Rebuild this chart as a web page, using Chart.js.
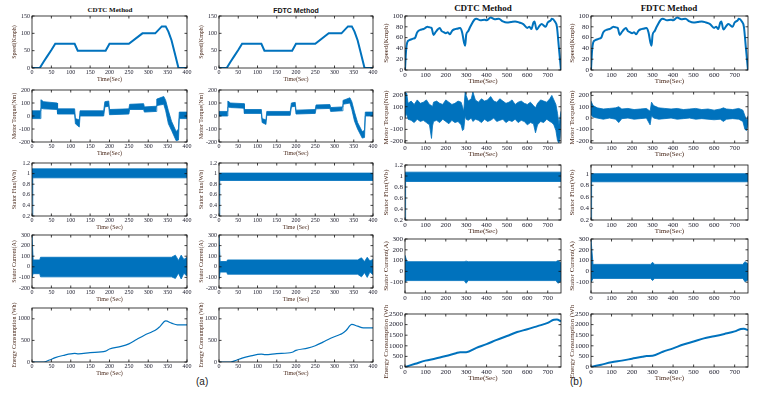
<!DOCTYPE html>
<html>
<head>
<meta charset="utf-8">
<script src="https://cdn.jsdelivr.net/npm/chart.js@4.4.1/dist/chart.umd.min.js"></script>
<style>
body { margin: 0; background: #fff; width: 759px; height: 393px; overflow: hidden; position: relative; }
canvas { position: absolute; }
.ttl { position: absolute; color: #111; transform: translate(-50%, -50%); white-space: nowrap; }
.lab { position: absolute; font: 10px 'Liberation Sans', Arial, sans-serif; color: #222; }
</style>
</head>
<body>
<div class="ttl" style="left:110px;top:10px;font:bold 7px 'Liberation Serif'">CDTC Method</div>
<div class="ttl" style="left:296px;top:10px;font:bold 7px 'Liberation Sans'">FDTC Method</div>
<div class="ttl" style="left:483px;top:8px;font:bold 9px 'Liberation Serif'">CDTC Method</div>
<div class="ttl" style="left:669px;top:8px;font:bold 9px 'Liberation Serif'">FDTC Method</div>
<div class="lab" style="left:196px;top:376px">(a)</div>
<div class="lab" style="left:570px;top:376px">(b)</div>
<script>
// tick labels
var timeTicksA = [0, 50, 100, 150, 200, 250, 300, 350, 400];
var timeTicksB = [0, 100, 200, 300, 400, 500, 600, 700];
var speedTicksA = [0, 50, 100, 150];
var speedTicksB = [0, 20, 40, 60, 80, 100];
var torqueTicks = [-200, -100, 0, 100, 200];
var fluxTicks = [0.2, 0.4, 0.6, 0.8, 1, 1.2];
var fluxTicksShort = [0.2, 0.4, 0.6, 0.8, 1];
var currentTicksA = [-200, -100, 0, 100, 200, 300];
var currentTicksB = [-100, 0, 100, 200, 300];
var energyTicksA = [0, 500, 1000];
var energyTicksB = [0, 500, 1000, 1500, 2000, 2500];

// ---- (a) 400 s cycle ----
var speedTimeA = [0, 20, 30, 40, 50, 60, 110, 118, 190, 200, 250, 285, 318, 335, 345, 352, 360, 368, 378, 400];
var speedA = [0, 0, 18, 35, 52, 70, 70, 50, 50, 70, 70, 100, 100, 120, 120, 105, 80, 45, 0, 0];

var torqueTimeA = [0, 22, 23, 30, 65, 66, 110, 112, 122, 124, 185, 188, 198, 200, 250, 252, 288, 290, 320, 322, 340, 345, 352, 360, 372, 378, 380, 400];
var torqueUpCdtcA = [40, 40, 125, 110, 100, 55, 55, -20, -30, 40, 40, 110, 115, 50, 55, 90, 95, 70, 75, 130, 150, 120, 40, -40, -120, -100, 30, 30];
var torqueLoCdtcA = [-20, -20, 60, 55, 50, 15, 15, -60, -85, 0, 0, 70, 75, 10, 15, 50, 50, 30, 35, 80, 90, 40, -60, -110, -190, -185, -20, -20];
var torqueUpFdtcA = [35, 35, 115, 100, 95, 50, 50, -20, -30, 35, 35, 100, 105, 45, 50, 85, 88, 65, 70, 120, 140, 110, 30, -50, -120, -110, 30, 30];
var torqueLoFdtcA = [0, 0, 70, 65, 60, 20, 20, -50, -65, 5, 5, 70, 75, 15, 20, 55, 58, 35, 40, 90, 100, 50, -40, -100, -170, -165, 0, 0];

var fluxTimeA = [0, 2, 400];
var fluxUpCdtcA = [1.09, 1.09, 1.09];
var fluxLoCdtcA = [0.2, 0.92, 0.92];
var fluxUpFdtcA = [1.01, 1.01, 1.01];
var fluxLoFdtcA = [0.2, 0.87, 0.87];

var currentTimeA = [0, 1, 3, 20, 22, 360, 370, 378, 385, 392, 400];
var currentUpCdtcA = [300, 300, 65, 65, 90, 90, 110, 60, 110, 70, 90];
var currentLoCdtcA = [-100, -100, -65, -65, -95, -95, -110, -60, -115, -60, -90];
var currentUpFdtcA = [300, 300, 50, 50, 65, 65, 85, 50, 90, 55, 70];
var currentLoFdtcA = [-120, -120, -50, -50, -70, -70, -95, -55, -100, -50, -75];

var energyTimeA = [0, 30, 45, 60, 80, 110, 120, 150, 190, 200, 230, 250, 270, 290, 310, 320, 330, 345, 360, 375, 400];
var energyCdtcA = [0, 0, 45, 100, 150, 200, 190, 215, 250, 300, 360, 420, 520, 620, 700, 745, 820, 950, 900, 860, 860];
var energyFdtcA = [0, 0, 40, 90, 135, 180, 170, 195, 225, 270, 320, 375, 460, 550, 620, 660, 730, 870, 830, 790, 790];

// ---- (b) 765 s cycle ----
var speedTimeB = [0, 5, 10, 20, 40, 50, 60, 80, 90, 100, 110, 120, 130, 140, 150, 160, 170, 180, 190, 200, 210, 220, 230, 240, 260, 270, 280, 290, 295, 300, 310, 320, 340, 350, 370, 390, 400, 420, 440, 460, 480, 500, 520, 540, 560, 580, 600, 610, 620, 630, 635, 645, 660, 670, 690, 700, 715, 720, 735, 745, 755, 765];
var speedB = [0, 35, 50, 55, 58, 60, 70, 75, 76, 78, 80, 79, 78, 65, 70, 75, 78, 72, 70, 68, 70, 66, 72, 75, 77, 78, 70, 50, 45, 65, 72, 80, 93, 95, 92, 93, 92, 97, 94, 95, 90, 88, 89, 90, 88, 85, 78, 80, 76, 88, 90, 75, 82, 85, 80, 88, 92, 95, 90, 80, 40, 0];

var torqueTimeCdtcB = [0, 8, 15, 30, 45, 60, 75, 90, 105, 120, 130, 135, 140, 155, 170, 185, 200, 215, 230, 245, 260, 275, 282, 288, 295, 300, 310, 325, 333, 345, 360, 375, 390, 405, 420, 435, 450, 465, 480, 495, 510, 525, 540, 555, 570, 585, 600, 615, 630, 640, 650, 665, 680, 695, 710, 720, 730, 740, 748, 755, 760, 765];
var torqueUpCdtcB = [230, 220, 130, 150, 120, 160, 130, 140, 160, 120, 110, 100, 140, 150, 130, 120, 160, 140, 120, 130, 150, 140, 100, 60, 230, 200, 150, 170, 230, 160, 140, 170, 150, 160, 190, 150, 140, 170, 150, 130, 140, 160, 120, 140, 150, 130, 120, 140, 110, 90, 130, 160, 150, 140, 170, 200, 160, 120, 40, -60, 0, 60];
var torqueLoCdtcB = [0, 40, -10, -20, -40, -10, -30, -20, -40, -60, -180, -70, -30, -20, -40, -10, -30, -50, -20, -40, -30, -60, -110, -100, 20, -10, -20, 0, -30, -10, -20, -40, -10, -30, -20, 0, -30, -20, -10, -40, -20, -30, -10, -40, -20, -30, -60, -40, -50, -130, -60, -30, -40, -10, -30, -40, -60, -110, -200, -220, -180, -40];

var torqueTimeFdtcB = [0, 10, 30, 60, 90, 120, 135, 150, 180, 210, 240, 270, 288, 295, 305, 330, 360, 390, 420, 450, 480, 510, 540, 570, 600, 630, 645, 660, 690, 720, 740, 750, 758, 765];
var torqueUpFdtcB = [150, 110, 90, 80, 85, 90, 100, 80, 85, 75, 80, 85, 60, 140, 110, 90, 85, 80, 85, 75, 80, 85, 75, 80, 70, 80, 90, 80, 75, 85, 70, 20, -20, 20];
var torqueLoFdtcB = [30, 10, 0, -10, 0, -10, -40, -5, 0, -10, -5, 0, -60, 20, 0, -10, -5, 0, -10, -5, 0, -10, -5, -10, -15, -10, -30, -10, -5, -10, -30, -100, -110, -60];

var fluxTimeB = [0, 3, 765];
var fluxUpCdtcB = [1.07, 1.07, 1.07];
var fluxLoCdtcB = [0.2, 0.9, 0.9];
var fluxUpFdtcB = [1.0, 1.0, 1.0];
var fluxLoFdtcB = [0.2, 0.86, 0.86];

var currentTimeB = [0, 2, 10, 290, 300, 310, 740, 750, 765];
var currentUpCdtcB = [150, 150, 90, 90, 95, 90, 90, 100, 80];
var currentLoCdtcB = [-100, -100, -85, -85, -110, -85, -85, -110, -90];
var currentUpFdtcB = [300, 300, 65, 65, 85, 65, 65, 90, 70];
var currentLoFdtcB = [-100, -100, -65, -65, -85, -65, -65, -95, -80];

var energyTimeB = [0, 50, 100, 150, 200, 250, 270, 300, 350, 400, 450, 500, 550, 600, 650, 700, 730, 745, 765];
var energyCdtcB = [0, 150, 300, 400, 520, 650, 700, 700, 900, 1080, 1280, 1460, 1650, 1780, 1930, 2080, 2230, 2240, 2150];
var energyFdtcB = [0, 110, 220, 300, 390, 480, 520, 530, 720, 880, 1060, 1200, 1350, 1450, 1560, 1680, 1790, 1800, 1740];

// plot boxes (page pixels)
var COLS = [[32, 187], [219, 373], [405, 561], [591, 748]];
var ROWS_A = [[16, 68], [90, 142], [163, 216], [235, 288], [308, 362]];
var ROWS_B = [[16, 70], [92, 143], [165, 220], [239, 293], [314, 367]];

var BLUE = '#0072BD';
var SERIF = "'Liberation Serif', 'Times New Roman', serif";

function pts(t, v) {
  return t.map(function (x, i) { return { x: x, y: v[i] }; });
}

function line(t, v, w, smooth) {
  return [{ data: pts(t, v), borderColor: BLUE, borderWidth: w, pointRadius: 0, fill: false,
            cubicInterpolationMode: smooth ? 'monotone' : 'default', tension: 0 }];
}

function band(t, up, lo) {
  return [
    { data: pts(t, up), borderColor: BLUE, borderWidth: 0.8, backgroundColor: BLUE, fill: '+1', pointRadius: 0 },
    { data: pts(t, lo), borderColor: BLUE, borderWidth: 0.8, pointRadius: 0, fill: false }
  ];
}

function fixTicks(arr) {
  return function (s) { s.ticks = arr.map(function (v) { return { value: v }; }); };
}

// matlab style box with inward ticks
var frame = {
  id: 'frame',
  afterDatasetsDraw: function (chart) {
    var ctx = chart.ctx, a = chart.chartArea, sx = chart.scales.x, sy = chart.scales.y;
    var L = 2.5;
    ctx.save();
    ctx.strokeStyle = '#111';
    ctx.lineWidth = 0.8;
    ctx.strokeRect(a.left, a.top, a.right - a.left, a.bottom - a.top);
    ctx.beginPath();
    sx.ticks.forEach(function (tk) {
      var p = sx.getPixelForValue(tk.value);
      ctx.moveTo(p, a.bottom); ctx.lineTo(p, a.bottom - L);
      ctx.moveTo(p, a.top); ctx.lineTo(p, a.top + L);
    });
    sy.ticks.forEach(function (tk) {
      var p = sy.getPixelForValue(tk.value);
      ctx.moveTo(a.left, p); ctx.lineTo(a.left + L, p);
      ctx.moveTo(a.right, p); ctx.lineTo(a.right - L, p);
    });
    ctx.stroke();
    ctx.restore();
  }
};

function panel(col, row, c) {
  var lr = COLS[col];
  var tb = (col < 2 ? ROWS_A : ROWS_B)[row];
  var fs = col < 2 ? 6 : 7;
  var YW = col < 2 ? 24 : 26, RP = 8, TP = 9, XH = 15;
  var cv = document.createElement('canvas');
  cv.width = lr[1] - lr[0] + YW + RP;
  cv.height = tb[1] - tb[0] + TP + XH;
  cv.style.left = (lr[0] - YW) + 'px';
  cv.style.top = (tb[0] - TP) + 'px';
  document.body.appendChild(cv);

  new Chart(cv, {
    type: 'line',
    data: { datasets: c.sets },
    options: {
      responsive: false,
      animation: false,
      devicePixelRatio: 1,
      layout: { padding: { left: 0, right: RP, top: TP, bottom: 0 } },
      plugins: { legend: { display: false }, tooltip: { enabled: false } },
      scales: {
        x: {
          type: 'linear', min: 0, max: c.xMax,
          grid: { display: false, drawTicks: false }, border: { display: false },
          ticks: { autoSkip: false, maxRotation: 0, padding: 1,
                   color: '#1a1a2a', font: { family: SERIF, size: fs },
                   callback: function (v) { return String(v); } },
          afterBuildTicks: fixTicks(c.xTicks),
          title: { display: !!c.xTitle, text: c.xTitle, color: '#4b2a1c', padding: 0,
                   font: { family: SERIF, size: fs } },
          afterFit: function (s) { s.height = XH; }
        },
        y: {
          min: c.yMin, max: c.yMax,
          grid: { display: false, drawTicks: false }, border: { display: false },
          ticks: { autoSkip: false, padding: 2,
                   color: '#1a1a2a', font: { family: SERIF, size: fs },
                   callback: function (v) { return String(v); } },
          afterBuildTicks: fixTicks(c.yTicks),
          title: { display: true, text: c.yTitle, color: '#4b2a1c', padding: { top: 3, bottom: 0 },
                   font: { family: SERIF, size: fs } },
          afterFit: function (s) { s.width = YW; }
        }
      }
    },
    plugins: [frame]
  });
}

// column (a) CDTC
panel(0, 0, { xMax: 400, xTicks: timeTicksA, yMin: 0, yMax: 150, yTicks: speedTicksA, yTitle: 'Speed(Kmph)', xTitle: 'Time(Sec)', sets: line(speedTimeA, speedA, 2) });
panel(0, 1, { xMax: 400, xTicks: timeTicksA, yMin: -200, yMax: 200, yTicks: torqueTicks, yTitle: 'Motor Torque(Nm)', xTitle: 'Time(Sec)', sets: band(torqueTimeA, torqueUpCdtcA, torqueLoCdtcA) });
panel(0, 2, { xMax: 400, xTicks: timeTicksA, yMin: 0.2, yMax: 1.2, yTicks: fluxTicks, yTitle: 'Stator Flux(Wb)', xTitle: 'Time (Sec)', sets: band(fluxTimeA, fluxUpCdtcA, fluxLoCdtcA) });
panel(0, 3, { xMax: 400, xTicks: timeTicksA, yMin: -200, yMax: 300, yTicks: currentTicksA, yTitle: 'Stator Current(A)', xTitle: 'Time (Sec)', sets: band(currentTimeA, currentUpCdtcA, currentLoCdtcA) });
panel(0, 4, { xMax: 400, xTicks: timeTicksA, yMin: 0, yMax: 1250, yTicks: energyTicksA, yTitle: 'Energy Consumption (Wh)', xTitle: 'Time (Sec)', sets: line(energyTimeA, energyCdtcA, 1.2, true) });

// column (a) FDTC
panel(1, 0, { xMax: 400, xTicks: timeTicksA, yMin: 0, yMax: 150, yTicks: speedTicksA, yTitle: 'Speed(Kmph)', xTitle: 'Time(Sec)', sets: line(speedTimeA, speedA, 2) });
panel(1, 1, { xMax: 400, xTicks: timeTicksA, yMin: -200, yMax: 200, yTicks: torqueTicks, yTitle: 'Motor Torque(Nm)', xTitle: 'Time(Sec)', sets: band(torqueTimeA, torqueUpFdtcA, torqueLoFdtcA) });
panel(1, 2, { xMax: 400, xTicks: timeTicksA, yMin: 0.2, yMax: 1.2, yTicks: fluxTicks, yTitle: 'Stator Flux(Wb)', xTitle: 'Time (Sec)', sets: band(fluxTimeA, fluxUpFdtcA, fluxLoFdtcA) });
panel(1, 3, { xMax: 400, xTicks: timeTicksA, yMin: -200, yMax: 300, yTicks: currentTicksA, yTitle: 'Stator Current(A)', xTitle: 'Time (Sec)', sets: band(currentTimeA, currentUpFdtcA, currentLoFdtcA) });
panel(1, 4, { xMax: 400, xTicks: timeTicksA, yMin: 0, yMax: 1250, yTicks: energyTicksA, yTitle: 'Energy Consumption (Wh)', xTitle: 'Time(Sec)', sets: line(energyTimeA, energyFdtcA, 1.2, true) });

// column (b) CDTC
panel(2, 0, { xMax: 765, xTicks: timeTicksB, yMin: 0, yMax: 100, yTicks: speedTicksB, yTitle: 'Speed(Kmph)', xTitle: 'Time(Sec)', sets: line(speedTimeB, speedB, 2, true) });
panel(2, 1, { xMax: 765, xTicks: timeTicksB, yMin: -220, yMax: 230, yTicks: torqueTicks, yTitle: 'Motor Torque(Nm)', xTitle: 'Time(Sec)', sets: band(torqueTimeCdtcB, torqueUpCdtcB, torqueLoCdtcB) });
panel(2, 2, { xMax: 765, xTicks: timeTicksB, yMin: 0.2, yMax: 1.2, yTicks: fluxTicks, yTitle: 'Stator Flux(Wb)', xTitle: 'Time(Sec)', sets: band(fluxTimeB, fluxUpCdtcB, fluxLoCdtcB) });
panel(2, 3, { xMax: 765, xTicks: timeTicksB, yMin: -200, yMax: 300, yTicks: currentTicksB, yTitle: 'Stator Current(A)', xTitle: '', sets: band(currentTimeB, currentUpCdtcB, currentLoCdtcB) });
panel(2, 4, { xMax: 765, xTicks: timeTicksB, yMin: 0, yMax: 2500, yTicks: energyTicksB, yTitle: 'Energy Consumption (Wh)', xTitle: 'Time(Sec)', sets: line(energyTimeB, energyCdtcB, 2, true) });

// column (b) FDTC
panel(3, 0, { xMax: 765, xTicks: timeTicksB, yMin: 0, yMax: 100, yTicks: speedTicksB, yTitle: 'Speed(Kmph)', xTitle: 'Time(Sec)', sets: line(speedTimeB, speedB, 2, true) });
panel(3, 1, { xMax: 765, xTicks: timeTicksB, yMin: -220, yMax: 230, yTicks: torqueTicks, yTitle: 'Motor Torque(Nm)', xTitle: 'Time(Sec)', sets: band(torqueTimeFdtcB, torqueUpFdtcB, torqueLoFdtcB) });
panel(3, 2, { xMax: 765, xTicks: timeTicksB, yMin: 0.2, yMax: 1.15, yTicks: fluxTicksShort, yTitle: 'Stator Flux(Wb)', xTitle: 'Time(Sec)', sets: band(fluxTimeB, fluxUpFdtcB, fluxLoFdtcB) });
panel(3, 3, { xMax: 765, xTicks: timeTicksB, yMin: -200, yMax: 300, yTicks: currentTicksB, yTitle: 'Stator Current(A)', xTitle: '', sets: band(currentTimeB, currentUpFdtcB, currentLoFdtcB) });
panel(3, 4, { xMax: 765, xTicks: timeTicksB, yMin: 0, yMax: 2500, yTicks: energyTicksB, yTitle: 'Energy Consumption (Wh)', xTitle: 'Time(Sec)', sets: line(energyTimeB, energyFdtcB, 2, true) });
</script>
</body>
</html>
